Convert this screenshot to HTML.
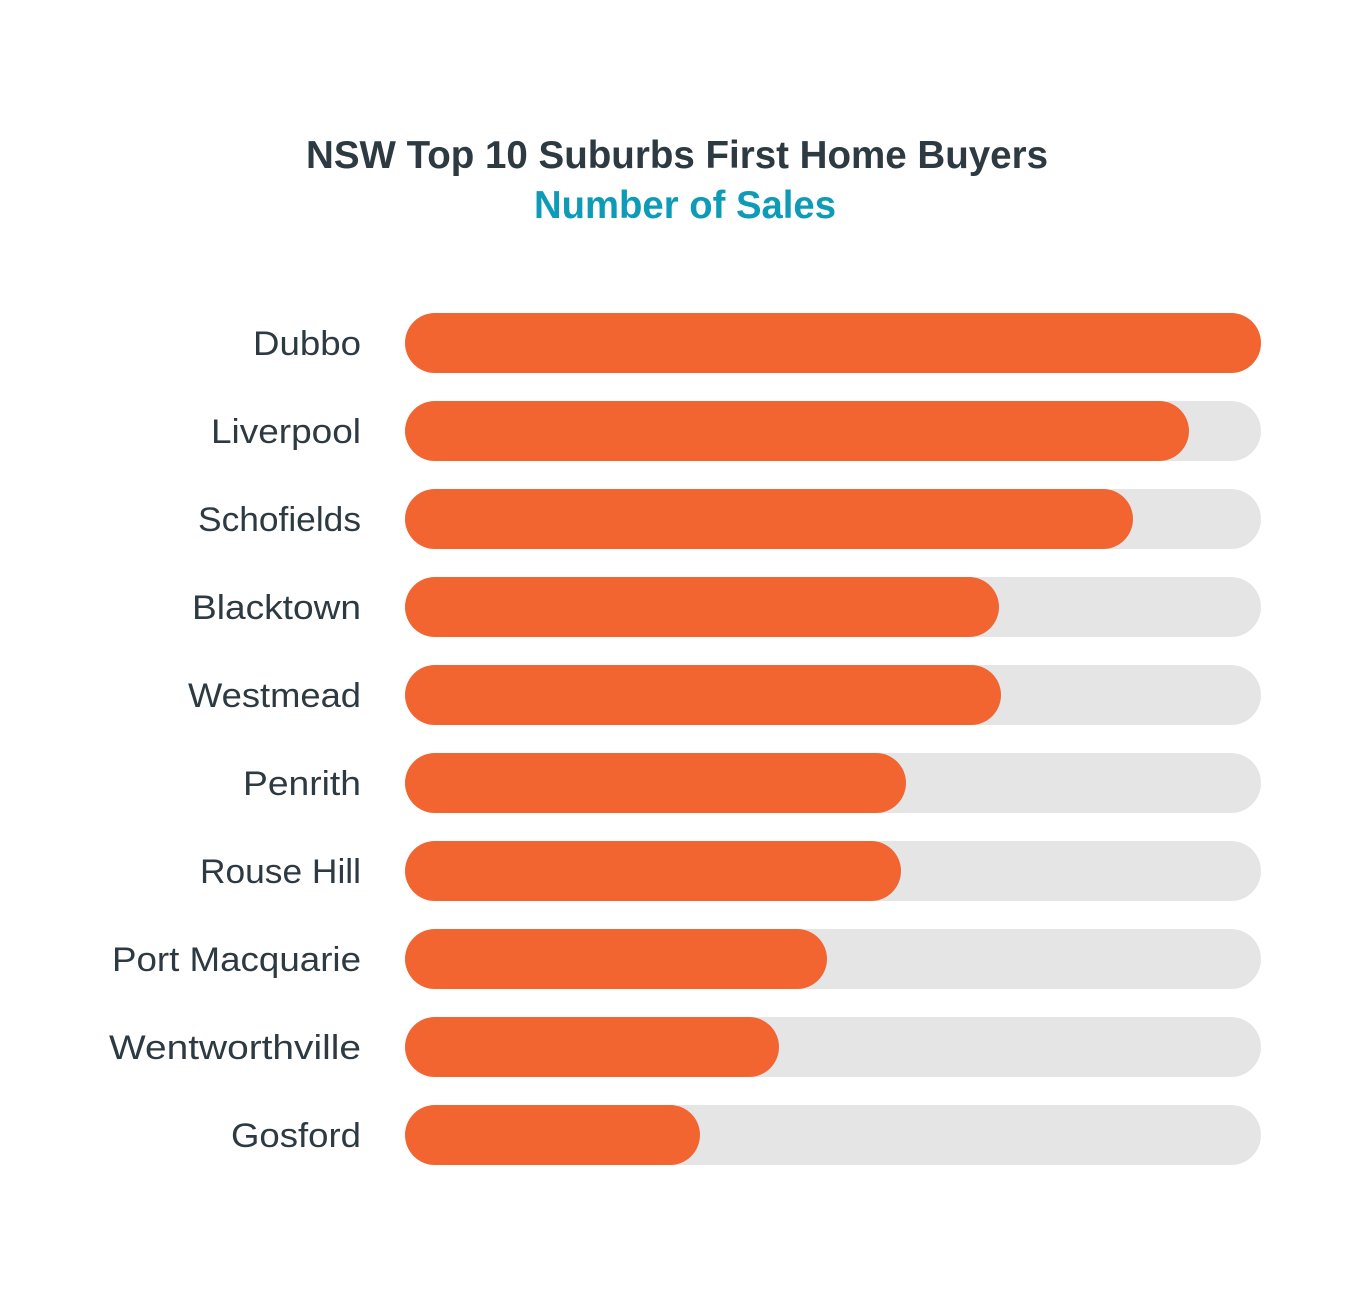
<!DOCTYPE html>
<html><head><meta charset="utf-8"><style>
html,body{margin:0;padding:0;background:#fff;}
body{width:1370px;height:1298px;overflow:hidden;}
</style></head><body>
<svg width="1370" height="1298" xmlns="http://www.w3.org/2000/svg" font-family="Liberation Sans, sans-serif">
<text x="677" y="168" text-anchor="middle" font-size="39" font-weight="bold" fill="#2d3a42" textLength="742" lengthAdjust="spacingAndGlyphs">NSW Top 10 Suburbs First Home Buyers</text>
<text x="685" y="218" text-anchor="middle" font-size="39" font-weight="bold" fill="#0e9bb8" textLength="302" lengthAdjust="spacingAndGlyphs">Number of Sales</text>
<g fill="#e5e5e5">
<rect x="405" y="313" width="856" height="60" rx="30"/>
<rect x="405" y="401" width="856" height="60" rx="30"/>
<rect x="405" y="489" width="856" height="60" rx="30"/>
<rect x="405" y="577" width="856" height="60" rx="30"/>
<rect x="405" y="665" width="856" height="60" rx="30"/>
<rect x="405" y="753" width="856" height="60" rx="30"/>
<rect x="405" y="841" width="856" height="60" rx="30"/>
<rect x="405" y="929" width="856" height="60" rx="30"/>
<rect x="405" y="1017" width="856" height="60" rx="30"/>
<rect x="405" y="1105" width="856" height="60" rx="30"/>
</g>
<g fill="#f26531">
<rect x="405" y="313" width="856" height="60" rx="30"/>
<rect x="405" y="401" width="784" height="60" rx="30"/>
<rect x="405" y="489" width="728" height="60" rx="30"/>
<rect x="405" y="577" width="594" height="60" rx="30"/>
<rect x="405" y="665" width="596" height="60" rx="30"/>
<rect x="405" y="753" width="501" height="60" rx="30"/>
<rect x="405" y="841" width="496" height="60" rx="30"/>
<rect x="405" y="929" width="422" height="60" rx="30"/>
<rect x="405" y="1017" width="374" height="60" rx="30"/>
<rect x="405" y="1105" width="295" height="60" rx="30"/>
</g>
<g font-size="34" fill="#2d3a42" lengthAdjust="spacingAndGlyphs">
<text x="253" y="355" textLength="108" lengthAdjust="spacingAndGlyphs">Dubbo</text>
<text x="211" y="443" textLength="150" lengthAdjust="spacingAndGlyphs">Liverpool</text>
<text x="198" y="531" textLength="163" lengthAdjust="spacingAndGlyphs">Schofields</text>
<text x="192" y="619" textLength="169" lengthAdjust="spacingAndGlyphs">Blacktown</text>
<text x="188" y="707" textLength="173" lengthAdjust="spacingAndGlyphs">Westmead</text>
<text x="243" y="795" textLength="118" lengthAdjust="spacingAndGlyphs">Penrith</text>
<text x="200" y="883" textLength="161" lengthAdjust="spacingAndGlyphs">Rouse Hill</text>
<text x="112" y="971" textLength="249" lengthAdjust="spacingAndGlyphs">Port Macquarie</text>
<text x="109" y="1059" textLength="252" lengthAdjust="spacingAndGlyphs">Wentworthville</text>
<text x="231" y="1147" textLength="130" lengthAdjust="spacingAndGlyphs">Gosford</text>
</g>
</svg>
</body></html>
